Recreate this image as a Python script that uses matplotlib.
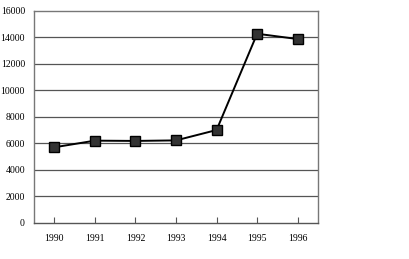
import matplotlib
matplotlib.use("Agg")
import matplotlib.pyplot as plt

years = ["1990", "1991", "1992", "1993", "1994", "1995", "1996"]
values = [5700, 6200, 6180, 6220, 7000, 14250, 13850]
yticks = [0, 2000, 4000, 6000, 8000, 10000, 12000, 14000, 16000]

plt.rcParams['font.family'] = ['Liberation Serif']
fig = plt.figure(figsize=(4.10, 2.59), dpi=100)
ax = fig.add_axes([34/410, 1-223/259, (318-34)/410, (223-10.5)/259])

x = list(range(len(years)))
ax.plot(x, values, color='black', lw=1.4, marker='s', markersize=6.5,
        markerfacecolor='#333333', markeredgecolor='black', zorder=3)
ax.set_xlim(-0.5, len(years) - 0.5)
ax.set_ylim(0, 16000)
ax.set_yticks(yticks)
ax.set_yticklabels([str(v) for v in yticks], fontsize=7)
ax.set_xticks(x)
ax.set_xticklabels(years, fontsize=7)
ax.tick_params(axis='y', length=0, pad=6.5)
ax.tick_params(axis='x', direction='in', length=4, width=0.8, color='#555555', pad=8)
for v in yticks[1:-1]:
    ax.axhline(v, color='#555555', lw=0.9, zorder=1)
for s in ax.spines.values():
    s.set_color('#777777')
    s.set_linewidth(1.0)
ax.spines['bottom'].set_color('#555555')
fig.savefig("out.png", dpi=100)
